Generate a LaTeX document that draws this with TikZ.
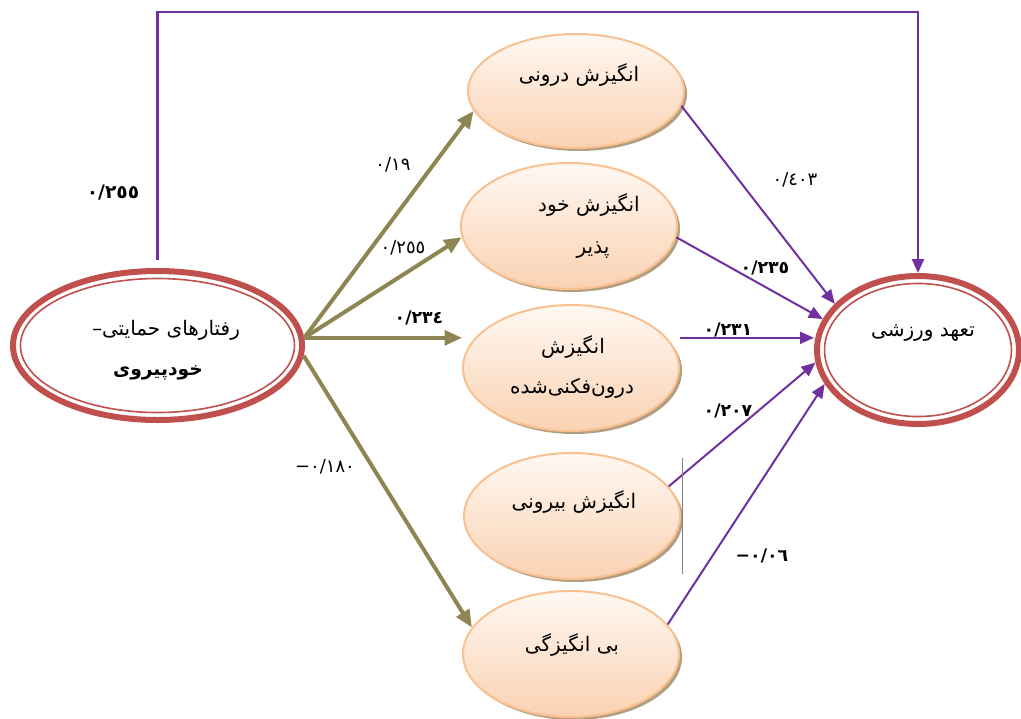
\documentclass[tikz,border=0pt]{standalone}
\usepackage{fontspec}
\usetikzlibrary{shapes.geometric,arrows.meta,calc}
\TeXXeTstate=1
\newfontfamily\arabicfont[Script=Arabic]{DejaVu Sans}
\definecolor{redc}{RGB}{192,80,77}
\definecolor{olivec}{RGB}{142,134,82}
\definecolor{purplec}{RGB}{112,48,160}
\definecolor{peachb}{RGB}{250,192,144}
\definecolor{peacht}{RGB}{255,248,242}
\definecolor{peachf}{RGB}{250,210,178}
\definecolor{shadc}{RGB}{178,158,128}
\definecolor{grayl}{RGB}{128,130,145}
\begin{document}
\begin{tikzpicture}[x=0.75pt,y=-0.75pt,
  dbl/.style={ellipse, draw=redc, line width=4.5pt, fill=white, inner sep=0pt},
  inring/.style={draw=redc, line width=1.2pt},
  pshape/.style={ellipse, inner sep=0pt, minimum width=162pt, minimum height=94.5pt},
  peach/.style={pshape, draw=peachb, line width=1.5pt, top color=peacht, bottom color=peachf},
  shad/.style={pshape, fill=shadc},
  txt/.style={font=\arabicfont\fontsize{15}{17}\selectfont, inner sep=0pt},
  btxt/.style={font=\arabicfont\bfseries\fontsize{14}{16}\selectfont, inner sep=0pt},
  num/.style={font=\arabicfont\fontsize{13.5}{15}\selectfont, inner sep=0pt},
  bnum/.style={font=\arabicfont\bfseries\fontsize{13}{15}\selectfont, inner sep=0pt},
  oarr/.style={draw=olivec, line width=3pt, -{Triangle[length=13pt,width=11pt]}},
  parr/.style={draw=purplec, line width=1.5pt, -{Triangle[length=10.5pt,width=9pt]}},
]
\useasboundingbox (0,0) rectangle (1021,718);

% left and right double ellipses
\node[dbl, minimum width=216.75pt, minimum height=111.75pt] (L) at (157.5,345.5) {};
\draw[inring] (L.center) ellipse [x radius=102.75pt, y radius=50.25pt];
\node[dbl, minimum width=151.5pt, minimum height=111pt] (R) at (918,350) {};
\draw[inring] (R.center) ellipse [x radius=70.1pt, y radius=49.9pt];

% shadows of middle ellipses
\node[shad, minimum height=85.5pt] (S1) at (579,94) {};
\node[shad] (S2) at (572,229) {};
\node[shad] (S3) at (574,371) {};
\node[shad] (S4) at (575,519) {};
\node[shad] (S5) at (574,657) {};

% middle ellipses
\node[peach, minimum height=85.5pt] (E1) at (576,91) {};
\node[peach] (E2) at (569,226) {};
\node[peach] (E3) at (571,368) {};
\node[peach] (E4) at (572,516) {};
\node[peach] (E5) at (571,654) {};

% texts
\node[txt] (tl1) at (166,330) {\beginR رفتارهای حمایتی–\endR};
\node[btxt] (tl2) at (158,373) {\beginR خودپیروی\endR};
\node[txt] (tr) at (923,333) {\beginR تعهد ورزشی\endR};
\node[txt] (t1) at (579,75) {\beginR انگیزش درونی\endR};
\node[txt] (t2a) at (589,205) {\beginR انگیزش خود\endR};
\node[txt] (t2b) at (593,250) {\beginR پذیر\endR};
\node[txt] (t3a) at (573,347) {\beginR انگیزش\endR};
\node[txt] (t3b) at (572,388) {\beginR درون‌فکنی‌شده\endR};
\node[txt] (t4) at (574,502) {\beginR انگیزش بیرونی\endR};
\node[txt] (t5) at (572,645) {\beginR بی انگیزگی\endR};

% olive arrows
\draw[oarr] (L.3) -- (E1.191);
\draw[oarr] (L.3) -- (E2.186);
\draw[oarr] (L.3) -- (L.3 -| E3.west);
\draw[oarr] (L.-4) -- (E5.165);

% purple arrows
\draw[parr] (E1.-8) -- (R.151);
\draw[parr] (E2.-6) -- (R.162);
\draw[parr] (E3.east |- L.3) -- (R.west |- L.3);
\draw[parr] (E4.17) -- (R.187);
\draw[parr] (E5.17) -- (R.200);
\draw[draw=purplec, line width=2pt, -{Triangle[length=10.5pt,width=9pt]}]
  ([yshift=6pt]L.north) -- ++(0,-248) -| (R.north);

% thin line beside E4
\draw[grayl, line width=0.6pt] ([xshift=1pt]E4.east) ++(0,-58) -- ++(0,116);

% coefficients
\node[bnum, font=\arabicfont\bfseries\fontsize{14}{16}\selectfont] (n1) at (113,193) {٠/٢٥٥};
\node[num] (n2) at (393,165) {٠/١٩};
\node[num] (n3) at (403,248) {٠/٢٥٥};
\node[bnum] (n4) at (419,318) {٠/٢٣٤};
\node[num] (n5) at (795,180) {٠/٤٠٣};
\node[bnum] (n6) at (765,268) {٠/٢٣٥};
\node[bnum] (n7) at (728,330) {٠/٢٣١};
\node[bnum] (n8) at (728,411) {٠/٢٠٧};
\node[bnum] (n9) at (762,556) {\mbox{−}\mbox{٠/٠٦}};
\node[num] (n10) at (325,467) {\mbox{−}\mbox{٠/١٨٠}};
\end{tikzpicture}
\end{document}
